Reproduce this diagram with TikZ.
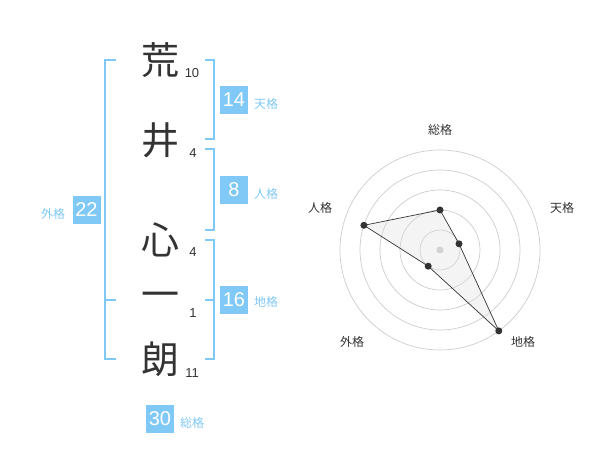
\documentclass[tikz,border=0pt]{standalone}
\usepackage{fontspec}
\setmainfont{Liberation Sans}
\newfontfamily\cjk{Noto Sans CJK JP}
\definecolor{lblue}{RGB}{128,200,246}
\definecolor{ink}{RGB}{51,51,51}
\definecolor{ring}{RGB}{204,204,204}
\begin{document}
\begin{tikzpicture}[x=1pt,y=-1pt,
  kanji/.style={inner sep=0pt,text=ink,font=\cjk\fontsize{38}{38}\selectfont},
  strokes/.style={inner sep=0pt,text=ink,font=\fontsize{13}{13}\selectfont},
  valbox/.style={fill=lblue,text=white,minimum width=28pt,minimum height=28pt,inner sep=0pt,font=\fontsize{20}{20}\selectfont},
  kaku/.style={inner sep=0pt,text=lblue,font=\cjk\fontsize{12}{12}\selectfont},
  bracket/.style={draw=lblue,line width=2pt},
  axislabel/.style={inner sep=0pt,text=ink,font=\cjk\fontsize{12}{12}\selectfont},
  ringline/.style={draw=ring,line width=0.7pt},
  dot/.style={circle,fill=ink,inner sep=0pt,minimum size=7pt}]
\useasboundingbox (0,0) rectangle (600,470);
% characters
\node[kanji] (k1) at (160,60) {荒};
\node[kanji] (k2) at (160,140) {井};
\node[kanji] (k3) at (160,240) {心};
\node[kanji] (k4) at (160,300) {一};
\node[kanji] (k5) at (160,359) {朗};
\node[strokes] (n1) at (192,73) {10};
\node[strokes] (n2) at (193,153) {4};
\node[strokes] (n3) at (193,252) {4};
\node[strokes] (n4) at (193,313) {1};
\node[strokes] (n5) at (192,373) {11};
% brackets
\draw[bracket] (116,60) -- (105,60) -- (105,359) -- (116,359);
\draw[bracket] (105,300) -- (116,300);
\draw[bracket] (205,60) -- (214,60) -- (214,139) -- (205,139);
\draw[bracket] (205,149) -- (214,149) -- (214,230) -- (205,230);
\draw[bracket] (205,240) -- (214,240) -- (214,359) -- (205,359);
\draw[bracket] (205,300) -- (214,300);
% value boxes
\node[valbox] (b1) at (234,100) {14};
\node[kaku] (l1) at (266,104) {天格};
\node[valbox] (b2) at (234,190) {8};
\node[kaku] (l2) at (266,194) {人格};
\node[valbox] (b3) at (86.5,210) {22};
\node[kaku] (l3) at (53,214) {外格};
\node[valbox] (b4) at (234,300) {16};
\node[kaku] (l4) at (266,302) {地格};
\node[valbox] (b5) at (160,419) {30};
\node[kaku] (l5) at (192,423) {総格};
% radar
\coordinate (C) at (440,250);
\foreach \r in {20,40,60,80,100} \draw[ringline] (C) circle[radius=\r];
\fill[ring] (C) circle[radius=3.5pt];
\coordinate (p1) at (440,210);
\coordinate (p2) at (459.0,243.8);
\coordinate (p3) at (498.8,330.9);
\coordinate (p4) at (428.2,266.2);
\coordinate (p5) at (363.9,225.3);
\filldraw[fill=gray!25,fill opacity=0.35,draw=ink,line width=0.7pt] (p1) -- (p2) -- (p3) -- (p4) -- (p5) -- cycle;
\foreach \p in {p1,p2,p3,p4,p5} \node[dot] at (\p) {};
\node[axislabel] (a1) at (440,130) {総格};
\node[axislabel] (a2) at (562,208) {天格};
\node[axislabel] (a3) at (523,342) {地格};
\node[axislabel] (a4) at (352,342) {外格};
\node[axislabel] (a5) at (320,208) {人格};
\end{tikzpicture}
\end{document}
